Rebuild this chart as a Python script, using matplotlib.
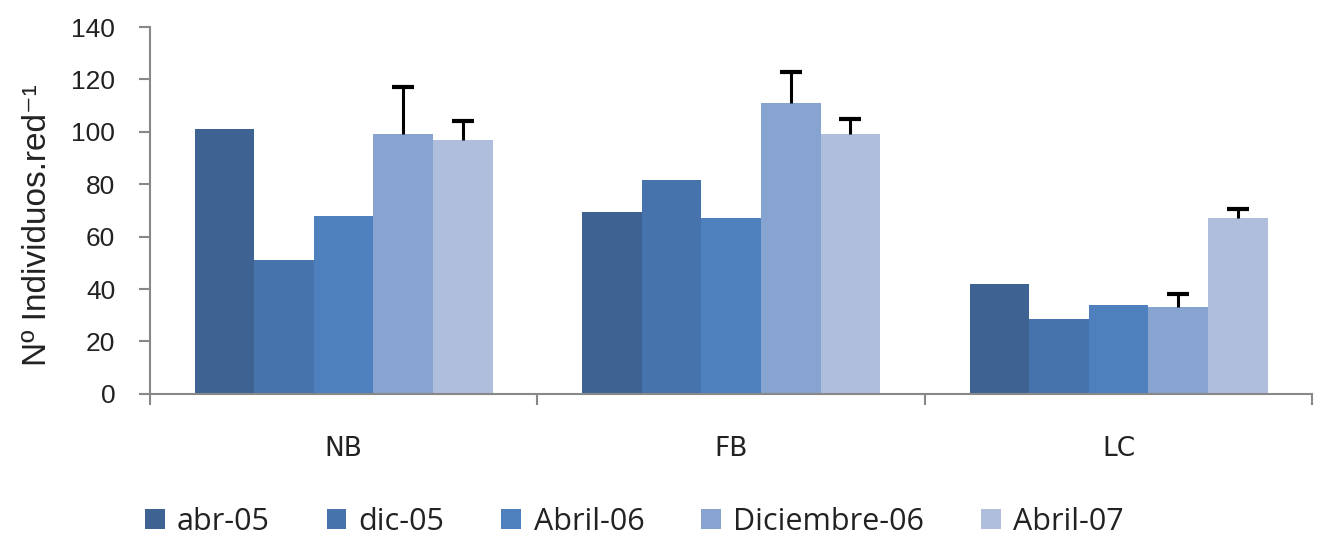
import matplotlib
matplotlib.use("Agg")
import matplotlib.pyplot as plt
import numpy as np

categories = ["NB", "FB", "LC"]
series = ["abr-05", "dic-05", "Abril-06", "Diciembre-06", "Abril-07"]
abr05 = [101, 69.5, 42]
dic05 = [51, 81.5, 28.5]
abril06 = [68, 67, 34]
dic06 = [99, 111, 33]
abril07 = [97, 99, 67]
err_dic06 = [18, 12, 5]
err_abril07 = [7, 6, 3.5]
colors = ["#3E6392", "#4673AC", "#4D80BD", "#87A3CF", "#AFBEDC"]

values = [abr05, dic05, abril06, dic06, abril07]
errors = [None, None, None, err_dic06, err_abril07]

fig = plt.figure(figsize=(13.27, 5.41), dpi=100)
ax = fig.add_axes([0.113, 0.272, 0.876, 0.678])

x = np.arange(len(categories))
w = 1 / 6.5
for i, (vals, err, c, name) in enumerate(zip(values, errors, colors, series)):
    pos = x + (i - 2) * w
    ax.bar(pos, vals, width=w, color=c, label=name, zorder=2)
    if err is not None:
        vals_a = np.array(vals)
        err_a = np.array(err)
        ax.vlines(pos, vals_a, vals_a + err_a, color="black", linewidth=2.2, zorder=3)
        ax.plot(pos, vals_a + err_a, linestyle="none", marker="_", markersize=16,
                markeredgewidth=3, color="black", zorder=3)

ax.set_xlim(-0.5, len(categories) - 0.5)
ax.set_ylim(0, 140)
ax.set_yticks(np.arange(0, 141, 20))
ax.set_xticks(x)
ax.set_xticks(np.arange(-0.5, len(categories), 1), minor=True)
ax.tick_params(axis="x", which="major", length=0, pad=30)
ax.tick_params(axis="x", which="minor", length=8, width=1.5, color="#888888", direction="out")
ax.tick_params(axis="y", length=8, width=1.5, color="#888888", labelsize=19, pad=17,
               labelcolor="#222222")
ax.set_xticklabels(categories, fontsize=19, family=["DejaVu Sans"], color="#222222")
for lab in ax.get_yticklabels():
    lab.set_family(["Liberation Sans Narrow", "Liberation Sans", "DejaVu Sans"])

for s in ["top", "right"]:
    ax.spines[s].set_visible(False)
for s in ["left", "bottom"]:
    ax.spines[s].set_color("#888888")
    ax.spines[s].set_linewidth(1.5)

ax.set_ylabel("Nº Individuos.red⁻¹", fontsize=24, color="#222222",
              family=["Liberation Sans", "DejaVu Sans"])
ax.yaxis.set_label_coords(-0.083, 0.46)

leg = fig.legend(loc="center left", bbox_to_anchor=(0.109, 0.036), ncol=5, frameon=False,
                 prop={"family": ["Open Sans", "DejaVu Sans"], "size": 22},
                 handlelength=0.65, handleheight=0.65, handletextpad=0.4, columnspacing=1.86,
                 labelcolor="#222222", borderaxespad=0, borderpad=0)

fig.savefig("out.png", dpi=100)
